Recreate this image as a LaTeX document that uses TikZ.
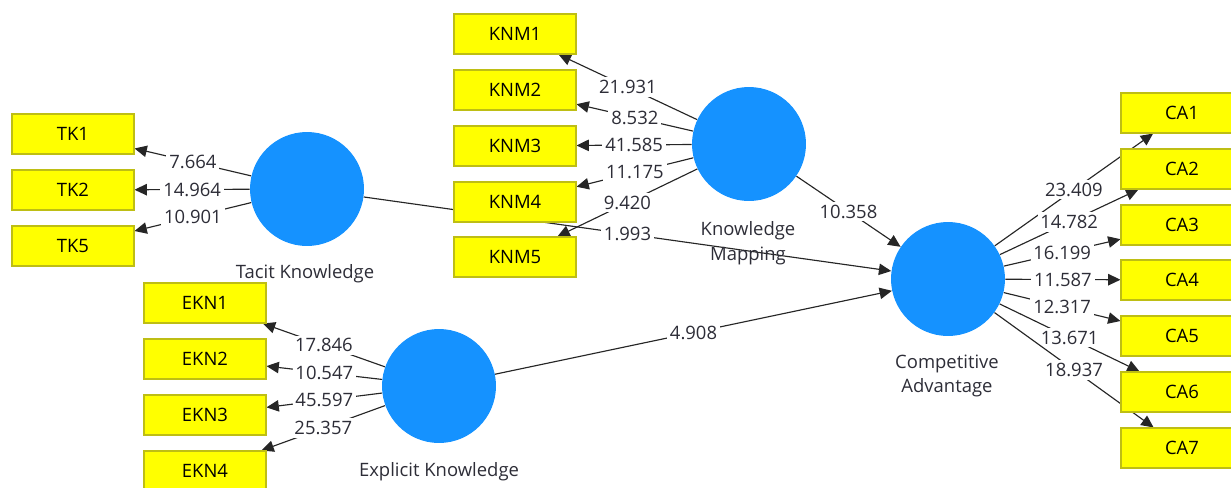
\documentclass[tikz,border=0pt]{standalone}
\usepackage{fontspec}
\setmainfont{Open Sans}
\usetikzlibrary{arrows.meta,backgrounds}
\definecolor{lvblue}{RGB}{21,146,255}
\definecolor{indfill}{RGB}{255,255,0}
\definecolor{indline}{RGB}{190,190,20}
\definecolor{coeftext}{RGB}{45,45,55}
\tikzset{
  latent/.style={circle, fill=lvblue, minimum size=2.28cm, inner sep=0pt},
  indicator/.style={rectangle, fill=indfill, draw=indline, line width=0.6pt,
    minimum width=2.44cm, minimum height=0.8cm, inner sep=0pt,
    font=\fontsize{10.5}{12}\selectfont},
  link/.style={draw=black!85, line width=0.65pt, -{Triangle[length=7pt,width=6.5pt]}},
  coef/.style={midway, fill=white, inner sep=1.6pt, text=coeftext,
    font=\fontsize{10.5}{12}\selectfont},
  lvname/.style={align=center, text=coeftext, font=\fontsize{10.5}{14}\selectfont}
}

\begin{document}
\begin{tikzpicture}[x=0.02cm, y=-0.02cm]
			%%%%% START %%%%%
			\useasboundingbox (0, 0) rectangle (1231, 487);
			\clip (0, 0) rectangle (1231, 487);
			
			% latent variables
			\node[latent] (tacit) at (307, 189) {};
			\node[latent] (kmap) at (749, 144) {};
			\node[latent] (compadv) at (948, 279) {};
			\node[latent] (explicit) at (439, 386) {};
			
			\node[lvname] (tacitname) at (305, 274) {Tacit Knowledge};
			\node[lvname] (kmapname) at (748, 243) {Knowledge\\Mapping};
			\node[lvname] (compadvname) at (947, 376) {Competitive\\Advantage};
			\node[lvname] (explicitname) at (439, 472) {Explicit Knowledge};
			
			% indicators
			\node[indicator] (tk1) at (73, 134) {TK1};
			\node[indicator] (tk2) at (73, 190) {TK2};
			\node[indicator] (tk5) at (73, 246) {TK5};
			
			\node[indicator] (knm1) at (515, 34) {KNM1};
			\node[indicator] (knm2) at (515, 90) {KNM2};
			\node[indicator] (knm3) at (515, 146) {KNM3};
			\node[indicator] (knm4) at (515, 202) {KNM4};
			\node[indicator] (knm5) at (515, 257) {KNM5};
			
			\node[indicator] (ekn1) at (205, 303) {EKN1};
			\node[indicator] (ekn2) at (205, 359) {EKN2};
			\node[indicator] (ekn3) at (205, 415) {EKN3};
			\node[indicator] (ekn4) at (205, 471) {EKN4};
			
			\node[indicator] (ca1) at (1182, 113) {CA1};
			\node[indicator] (ca2) at (1182, 169) {CA2};
			\node[indicator] (ca3) at (1182, 225) {CA3};
			\node[indicator] (ca4) at (1182, 280) {CA4};
			\node[indicator] (ca5) at (1182, 336) {CA5};
			\node[indicator] (ca6) at (1182, 392) {CA6};
			\node[indicator] (ca7) at (1182, 448) {CA7};
			
			\begin{scope}[on background layer]
			% outer loadings
			\draw[link] (tacit) -- node[coef] {7.664} (tk1);
			\draw[link] (tacit) -- node[coef] {14.964} (tk2);
			\draw[link] (tacit) -- node[coef] {10.901} (tk5);
			
			\draw[link] (kmap) -- node[coef] {21.931} (knm1);
			\draw[link] (kmap) -- node[coef] {8.532} (knm2);
			\draw[link] (kmap) -- node[coef] {41.585} (knm3);
			\draw[link] (kmap) -- node[coef] {11.175} (knm4);
			\draw[link] (kmap) -- node[coef] {9.420} (knm5);
			
			\draw[link] (explicit) -- node[coef] {17.846} (ekn1);
			\draw[link] (explicit) -- node[coef] {10.547} (ekn2);
			\draw[link] (explicit) -- node[coef] {45.597} (ekn3);
			\draw[link] (explicit) -- node[coef] {25.357} (ekn4);
			
			\draw[link] (compadv) -- node[coef] {23.409} (ca1);
			\draw[link] (compadv) -- node[coef] {14.782} (ca2);
			\draw[link] (compadv) -- node[coef] {16.199} (ca3);
			\draw[link] (compadv) -- node[coef] {11.587} (ca4);
			\draw[link] (compadv) -- node[coef] {12.317} (ca5);
			\draw[link] (compadv) -- node[coef] {13.671} (ca6);
			\draw[link] (compadv) -- node[coef] {18.937} (ca7);
			
			% structural paths
			\draw[link] (tacit) -- node[coef] {1.993} (compadv);
			\draw[link] (kmap) -- node[coef] {10.358} (compadv);
			\draw[link] (explicit) -- node[coef] {4.908} (compadv);
			\end{scope}
			
			%%%%% END %%%%%
		\end{tikzpicture}
\end{document}
